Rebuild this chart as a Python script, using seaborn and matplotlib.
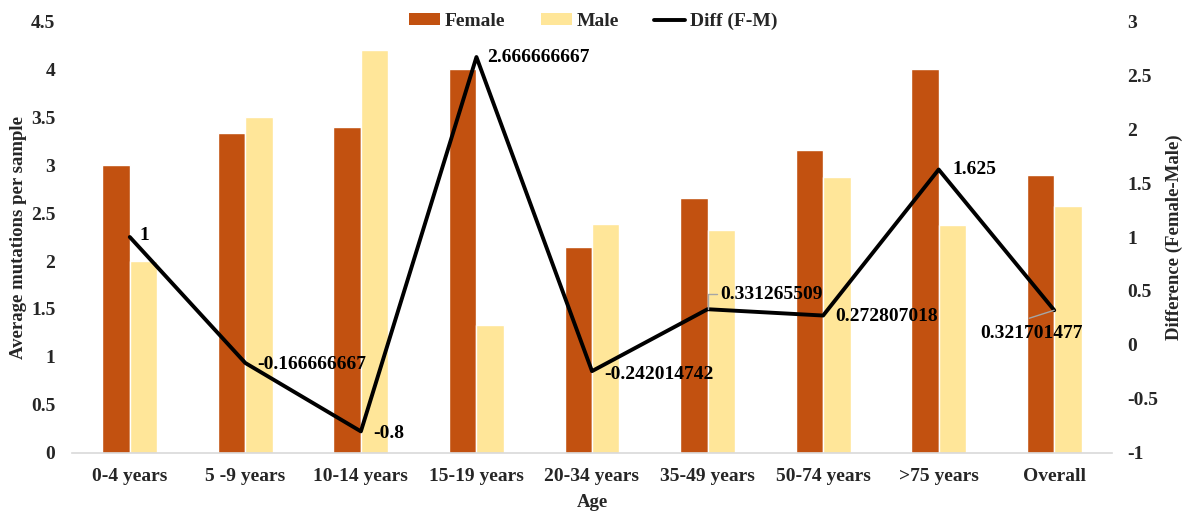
import matplotlib
matplotlib.use("Agg")
import matplotlib.pyplot as plt
import seaborn as sns
import pandas as pd
from matplotlib.patches import Patch
from matplotlib.lines import Line2D

age_groups = ["0-4 years", "5 -9 years", "10-14 years", "15-19 years", "20-34 years",
              "35-49 years", "50-74 years", ">75 years", "Overall"]
female = [3.0, 3.333333333, 3.4, 4.0, 2.142857143, 2.653846154, 3.152631579, 4.0, 2.890909091]
male = [2.0, 3.5, 4.2, 1.333333333, 2.384615385, 2.322580645, 2.879824561, 2.375, 2.569207614]
diff = [1.0, -0.166666667, -0.8, 2.666666667, -0.242014742, 0.331265509, 0.272807018, 1.625, 0.321701477]
diff_labels = ["1", "-0.166666667", "-0.8", "2.666666667", "-0.242014742",
               "0.331265509", "0.272807018", "1.625", "0.321701477"]

FEMALE_C = "#C25110"
MALE_C = "#FFE699"
FS = 14
LW = 2.8

sns.set_theme(style="white")
plt.rcParams["font.family"] = ["Liberation Serif", "DejaVu Serif"]
plt.rcParams["font.weight"] = "bold"

df = pd.DataFrame({
    "Age": age_groups * 2,
    "value": female + male,
    "Sex": ["Female"] * len(age_groups) + ["Male"] * len(age_groups),
})

fig = plt.figure(figsize=(11.84, 5.13), dpi=100)
ax = fig.add_axes([0.0608, 0.117, 0.8784, 0.842])

sns.barplot(data=df, x="Age", y="value", hue="Sex", order=age_groups,
            palette={"Female": FEMALE_C, "Male": MALE_C}, width=0.475,
            saturation=1, ax=ax, legend=False)
ax.set_xlim(-0.5, len(age_groups) - 0.5)
ax.set_ylim(0, 4.5)
ax.set_yticks([0, 0.5, 1, 1.5, 2, 2.5, 3, 3.5, 4, 4.5])
ax.set_yticklabels(["0", "0.5", "1", "1.5", "2", "2.5", "3", "3.5", "4", "4.5"])
ax.set_xlabel("Age", fontsize=13.5, fontweight="bold", labelpad=6)
ax.set_ylabel("Average mutations per sample", fontsize=13.5, fontweight="bold", labelpad=3)
ax.tick_params(axis="x", length=0, labelsize=FS, pad=11)
ax.tick_params(axis="y", length=0, labelsize=FS, pad=12)
for s in ["top", "right", "left"]:
    ax.spines[s].set_visible(False)
ax.spines["bottom"].set_color("#D9D9D9")
ax.spines["bottom"].set_linewidth(1.2)

ax2 = ax.twinx()
line_df = pd.DataFrame({"x": list(range(len(age_groups))), "diff": diff})
sns.lineplot(data=line_df, x="x", y="diff", color="black", linewidth=LW, ax=ax2)
ax2.set_ylim(-1, 3)
ax2.set_yticks([-1, -0.5, 0, 0.5, 1, 1.5, 2, 2.5, 3])
ax2.set_yticklabels(["-1", "-0.5", "0", "0.5", "1", "1.5", "2", "2.5", "3"])
ax2.set_ylabel("Difference (Female-Male)", fontsize=13.5, fontweight="bold", labelpad=5)
ax2.set_xlabel("")
ax2.tick_params(axis="y", length=0, labelsize=FS, pad=11)
for s in ["top", "right", "left", "bottom"]:
    ax2.spines[s].set_visible(False)
ax2.set_xlim(-0.5, len(age_groups) - 0.5)

# data labels for the difference line (offsets in pixels)
offsets = {0: (10, 2), 1: (12, -2), 2: (12, -2), 3: (11, 0), 4: (12, -3),
           5: (13, 15), 6: (12, -1), 7: (14, 0), 8: (-74, -23)}
for i, (v, lab) in enumerate(zip(diff, diff_labels)):
    dx, dy = offsets[i]
    ax2.annotate(lab, (i, v), xytext=(dx, dy), textcoords="offset pixels",
                 ha="left", va="center", fontsize=FS, fontweight="bold", color="black")

# leader lines for the two displaced labels
ax2.annotate("", (5, diff[5]), xytext=(9, 15), textcoords="offset pixels",
             arrowprops=dict(arrowstyle="-", color="#A6A6A6", lw=1, shrinkA=0, shrinkB=0,
                             connectionstyle="angle,angleA=0,angleB=90,rad=0"))
ax2.annotate("", (8, diff[8]), xytext=(-25, -8), textcoords="offset pixels",
             arrowprops=dict(arrowstyle="-", color="#A6A6A6", lw=1, shrinkA=0, shrinkB=0))

handles = [Patch(facecolor=FEMALE_C, edgecolor="none"),
           Patch(facecolor=MALE_C, edgecolor="none"),
           Line2D([0], [0], color="black", lw=LW)]
fig.legend(handles, ["Female", "Male", "Diff (F-M)"], loc="center",
           bbox_to_anchor=(0.501, 0.958), ncol=3, frameon=False,
           prop={"family": "Liberation Serif", "weight": "bold", "size": FS},
           handlelength=1.6, handleheight=0.55, handletextpad=0.25, columnspacing=1.8)

fig.savefig("out.png", dpi=100)
